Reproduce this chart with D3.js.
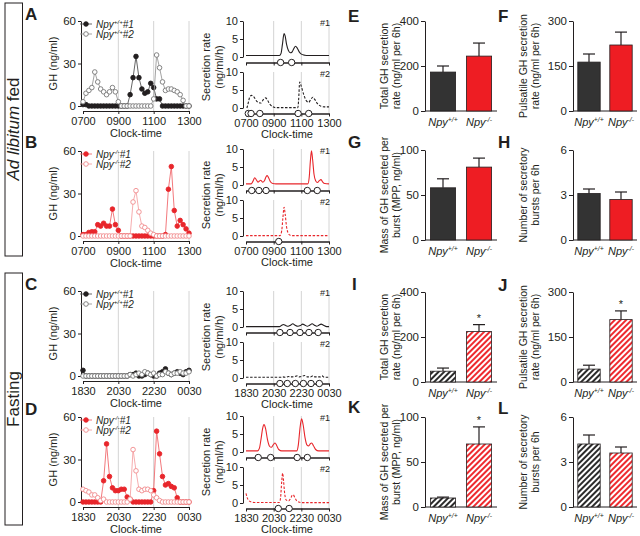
<!DOCTYPE html>
<html><head><meta charset="utf-8">
<script src="https://cdn.jsdelivr.net/npm/d3@7"></script>
<style>body{margin:0;background:#fff}svg{font-family:"Liberation Sans",Arial,sans-serif}</style>
</head><body><svg id="c" width="640" height="536"></svg>
<script>
// ---------------- DATA ----------------
const sampleMinutes = [0,10,20,30,40,50,60,70,80,90,100,110,120,130,140,150,160,170,180,190,200,210,220,230,240,250,260,270,280,290,300,310,320,330,340,350,360];
const fedTicks = ["0700","0900","1100","1300"];
const fastTicks = ["1830","2030","2230","0030"];
const tickMinutes = [0,120,240,360];
const ghTicks = [0,30,60];
const secTicks = [0,5,10];

// GH (ng/ml) every 10 min
const ghA1 = [1,1,0,0,0,0,0,0,0,0,0,0,0,0,0,0,8,20,35,20,12,9,10,16,13,5,5,0,0,0,0,0,0,0,0,0,0];
const ghA2 = [3,9,11,13,24,17,12,10,8,10,13,10,3,0,0,0,0,0,0,0,0,0,0,0,5,36,27,17,11,12,12,11,10,8,4,0,0];
const ghB1 = [1,1,2.5,3,3,8,7,9,7,7,19,8,4,0,0,0,0,0,0,0,0,0,0,0,0,0,0,0,1,33,49,18,7,11,8,5,2];
const ghB2 = [0,0,0,0,0,0,0,0,0,0,0,0,0,0,0,0,0,24,32,17,7,6,4,2,1,0,0,0,0,0,0,0,0,0,0,0,0];
const ghC1 = [4,0,0,0,0,0,0,0,0,0,0,0,0,0,0,0,1,1,2,0,0,1,2,1,0,0,2,3,5,2,1,2,3,2,1,3,4];
const ghC2 = [0,0,0,0,0,0,0,0,0,0,0,0,0,0,0,0,1,0,1,2,1,3,2,1,2,0,1,1,3,2,1,2,2,3,2,2,3];
const ghD1 = [0,0,0,0,0,0,0,15,41,18,10,8,8,9,9,3.5,2,0,0,0,0,0,0,0,8,50,34,18,12,13,11,10,3,0,0,0,0];
const ghD2 = [9,8,7,5,5,3,1,2,0,0,0,0,0,0,0,0,2,37,22,9,8,9,9,8,5,3,1,0,0,0,0,0,0,0,0,0,0];

// Deconvolved secretion rate (ng/ml/h): [minute, value]
const secA1 = [[0,0.4],[145,0.4],[152,1],[158,3.5],[165,6.5],[170,5.8],[176,3.5],[184,1.8],[192,1.2],[200,1.4],[207,2.3],[215,3],[222,2.5],[230,1.5],[240,0.8],[255,0.5],[270,0.4],[360,0.4]];
const secA2 = [[4,0],[10,1.5],[17,3.2],[25,3.5],[35,3],[45,2],[55,1.5],[65,1.4],[75,2.3],[85,2.8],[93,2.2],[103,1.1],[115,0.4],[130,0.1],[225,0.1],[228,2],[233,7.2],[240,6],[250,3.8],[262,2],[272,1.6],[281,2.4],[290,3],[298,2.4],[310,1.2],[325,0.5],[340,0.3],[360,0.3]];
const secB1 = [[0,0.3],[22,0.3],[30,1],[38,2],[45,1.4],[52,0.8],[58,1.1],[64,1.3],[72,0.8],[80,1.2],[87,2.3],[92,2.6],[98,2],[106,0.9],[116,0.4],[130,0.3],[268,0.3],[274,2],[279,6.5],[284,9.5],[289,7],[295,3],[302,1.2],[310,0.7],[318,1.2],[325,1.5],[332,0.9],[342,0.4],[360,0.3]];
const secB2 = [[0,0.1],[148,0.1],[155,1.5],[160,5],[165,8],[170,6],[176,2.5],[183,0.8],[192,0.2],[205,0.1],[360,0.1]];
const secC1 = [[0,0.1],[145,0.1],[155,0.5],[162,0.7],[172,0.4],[183,0.2],[193,0.5],[203,0.9],[213,0.5],[225,0.2],[236,0.4],[246,0.8],[256,0.5],[266,0.2],[276,0.5],[287,0.9],[297,0.5],[307,0.2],[316,0.5],[326,0.8],[336,0.5],[350,0.1],[360,0.1]];
const secC2 = [[0,0.2],[150,0.2],[160,0.3],[170,0.2],[185,0.4],[195,0.3],[210,0.4],[222,0.6],[232,0.3],[255,0.7],[265,0.3],[280,0.3],[290,0.6],[300,0.3],[322,0.3],[330,0.6],[340,0.2],[360,0.2]];
const secD1 = [[0,0.3],[50,0.3],[58,1],[65,3.5],[72,6.5],[78,7.6],[85,6.5],[93,3.5],[102,1.6],[110,1.3],[118,2],[126,2.5],[133,1.8],[142,0.7],[155,0.3],[220,0.3],[227,2],[234,6.5],[241,9.2],[248,7.5],[256,4],[264,2],[272,1.7],[279,2.3],[285,2.5],[292,1.8],[302,0.7],[315,0.3],[360,0.3]];
const secD2 = [[0,2.7],[5,1.5],[12,0.7],[22,0.3],[35,0.15],[145,0.15],[150,1.5],[155,6],[159,8.3],[163,6],[168,2.5],[175,0.8],[185,0.6],[193,1.2],[200,2.1],[205,2.3],[211,1.6],[220,0.6],[232,0.2],[245,0.1],[360,0.1]];

// Pulse onsets (minutes)
const onsetA1 = [150,198];
const onsetA2 = [10,22,60,226,272];
const onsetB1 = [25,56,87,266,309];
const onsetB2 = [142];
const onsetC1 = [147,191,234,273,313];
const onsetC2 = [147,179,214,249,282,318];
const onsetD1 = [53,107,222,266];
const onsetD2 = [140,187];

// Bar data
const genotypes = ["+/+","-/-"];
const totalFedMean = [173,244], totalFedSem = [27,58];
const pulsFedMean = [163,220], pulsFedSem = [27,43];
const mppFedMean = [58,81], mppFedSem = [10,10];
const burstFedMean = [3.1,2.7], burstFedSem = [0.3,0.5];
const totalFastMean = [48,224], totalFastSem = [14,31];
const pulsFastMean = [43,208], pulsFastSem = [13,29];
const mppFastMean = [10,70], mppFastSem = [1,19];
const burstFastMean = [4.2,3.6], burstFastSem = [0.6,0.4];
const fastSignificant = [false,true];

// ---------------- DRAW ----------------
const svg = d3.select("#c");
const INK = "#231f20", RED = "#e8262b", PINK = "#f08a8c", GRID = "#d4d4d4";
const defs = svg.append("defs");
function hatch(id, bg, fg){
  const p = defs.append("pattern").attr("id",id).attr("patternUnits","userSpaceOnUse")
    .attr("width",4).attr("height",4).attr("patternTransform","rotate(45)");
  p.append("rect").attr("width",4).attr("height",4).attr("fill",bg);
  p.append("rect").attr("width",2).attr("height",4).attr("fill",fg);
}
hatch("hBlack","#ffffff","#2b2b2b");
hatch("hRed","#ffffff","#ee2a2f");

function npyText(g, x, y, sup, suffix, size, anchor){
  const t = g.append("text").attr("x",x).attr("y",y).attr("font-size",size)
    .attr("font-style","italic").attr("text-anchor",anchor||"middle").attr("fill",INK);
  t.append("tspan").text("Npy");
  t.append("tspan").attr("dy",-size*0.38).attr("font-size",size*0.62).text(sup);
  if (suffix) t.append("tspan").attr("dy",size*0.38).text(suffix);
  return t;
}
function styleAxis(a, fs){
  a.selectAll("path,line").attr("stroke",INK).attr("stroke-width",1);
  a.selectAll("text").attr("font-size",fs).attr("fill",INK).attr("font-family","Liberation Sans, Arial, sans-serif");
}
function rotLabel(x, y, lines, fs, gap){
  const g = svg.append("g").attr("transform",`translate(${x},${y}) rotate(-90)`);
  lines.forEach((l,i)=>g.append("text").attr("y",i*gap).attr("text-anchor","middle")
    .attr("font-size",fs).attr("fill",INK).text(l));
}

// Left condition boxes
svg.append("rect").attr("x",5).attr("y",3).attr("width",17.5).attr("height",253).attr("fill","none").attr("stroke",INK).attr("stroke-width",1);
svg.append("rect").attr("x",5).attr("y",273).attr("width",17.5).attr("height",252).attr("fill","none").attr("stroke",INK).attr("stroke-width",1);
{
  const t = svg.append("text").attr("transform","translate(19,129) rotate(-90)").attr("text-anchor","middle").attr("font-size",17).attr("fill",INK);
  t.append("tspan").attr("font-style","italic").text("Ad libitum");
  t.append("tspan").text(" fed");
  svg.append("text").attr("transform","translate(19,399) rotate(-90)").attr("text-anchor","middle").attr("font-size",17).attr("fill",INK).text("Fasting");
}

const rows = [
  {letter:"A", ly:20, y0:106, secTop:21, d1:ghA1, d2:ghA2, s1:secA1, s2:secA2, o1:onsetA1, o2:onsetA2, ticks:fedTicks, red:false, sup:"+/+"},
  {letter:"B", ly:148, y0:236, secTop:149, d1:ghB1, d2:ghB2, s1:secB1, s2:secB2, o1:onsetB1, o2:onsetB2, ticks:fedTicks, red:true, sup:"-/-"},
  {letter:"C", ly:290, y0:376, secTop:291, d1:ghC1, d2:ghC2, s1:secC1, s2:secC2, o1:onsetC1, o2:onsetC2, ticks:fastTicks, red:false, sup:"+/+"},
  {letter:"D", ly:415, y0:502, secTop:416, d1:ghD1, d2:ghD2, s1:secD1, s2:secD2, o1:onsetD1, o2:onsetD2, ticks:fastTicks, red:true, sup:"-/-"}
];

rows.forEach(r=>{
  svg.append("text").attr("x",25).attr("y",r.ly).attr("font-size",17).attr("font-weight","bold").attr("fill",INK).text(r.letter);
  const c1 = r.red ? RED : INK, c2 = r.red ? PINK : "#777";
  const l1 = r.red ? "#f06a6e" : "#555", l2 = r.red ? "#f5a3a5" : "#999";
  // ---- GH panel ----
  const g = svg.append("g");
  const x = d3.scaleLinear().domain([0,360]).range([83,189]);
  const y = d3.scaleLinear().domain([0,60]).range([r.y0, r.y0-85]);
  g.selectAll("line.grid").data(tickMinutes.slice(1)).join("line")
    .attr("x1",d=>x(d)).attr("x2",d=>x(d)).attr("y1",y(60)).attr("y2",r.y0+5).attr("stroke",GRID);
  const ya = g.append("g").attr("transform","translate(81,0)")
    .call(d3.axisLeft(y).tickValues(ghTicks).tickSize(3).tickSizeOuter(0).tickPadding(2));
  styleAxis(ya, 11.5);
  const xa = g.append("g").attr("transform",`translate(0,${r.y0+5})`)
    .call(d3.axisBottom(x).tickValues(tickMinutes).tickFormat((d,i)=>r.ticks[i]).tickSize(3).tickSizeOuter(0).tickPadding(3));
  styleAxis(xa, 11);
  g.append("text").attr("x",136).attr("y",r.y0+31).attr("text-anchor","middle").attr("font-size",11).attr("fill",INK).text("Clock-time");
  rotLabel(57, y(30), ["GH (ng/ml)"], 11, 0);
  const line = d3.line().x((d,i)=>x(sampleMinutes[i])).y(d=>y(d));
  [[r.d1,l1,c1,true],[r.d2,l2,c2,false]].forEach(([data,lc,mc,filled])=>{
    g.append("path").attr("d",line(data)).attr("fill","none").attr("stroke",lc).attr("stroke-width",0.9);
    g.selectAll(null).data(data).join("circle")
      .attr("cx",(d,i)=>x(sampleMinutes[i])).attr("cy",d=>y(d)).attr("r",2.3)
      .attr("fill",filled?mc:"#fff").attr("stroke",mc).attr("stroke-width",0.9);
  });
  // legend
  [[c1,l1,true,"#1",r.y0-82],[c2,l2,false,"#2",r.y0-72]].forEach(([mc,lc,filled,sfx,ly])=>{
    g.append("line").attr("x1",80).attr("x2",92).attr("y1",ly).attr("y2",ly).attr("stroke",lc).attr("stroke-width",0.9);
    g.append("circle").attr("cx",86).attr("cy",ly).attr("r",2.3).attr("fill",filled?mc:"#fff").attr("stroke",mc).attr("stroke-width",0.9);
    npyText(g, 96, ly+3.5, r.sup, sfx, 10, "start");
  });
  // ---- Secretion panel ----
  const sx = d3.scaleLinear().domain([0,360]).range([246,329]);
  rotLabel(210, r.secTop+46, ["Secretion rate","(ng/ml/h)"], 11, 13);
  [[r.s1,r.o1,false,"#1"],[r.s2,r.o2,true,"#2"]].forEach(([sd,onsets,dashed,tag],k)=>{
    const top = r.secTop + k*51;
    const sy = d3.scaleLinear().domain([0,10]).range([top+36, top]);
    const axY = top + 41.5;
    g.selectAll(null).data(tickMinutes.slice(1)).join("line")
      .attr("x1",d=>sx(d)).attr("x2",d=>sx(d)).attr("y1",top).attr("y2",axY).attr("stroke",GRID);
    const sa = g.append("g").attr("transform","translate(243,0)")
      .call(d3.axisLeft(sy).tickValues(secTicks).tickSize(3).tickSizeOuter(0).tickPadding(2));
    styleAxis(sa, 11);
    const xb = g.append("g").attr("transform",`translate(0,${axY})`)
      .call(d3.axisBottom(sx).tickValues(tickMinutes).tickFormat(k===1?((d,i)=>r.ticks[i]):"").tickSize(3).tickSizeOuter(0).tickPadding(3));
    styleAxis(xb, 11);
    xb.select("path").attr("stroke-width",1.6);
    g.append("path").attr("d",d3.line().curve(d3.curveMonotoneX).x(d=>sx(d[0])).y(d=>sy(d[1]))(sd))
      .attr("fill","none").attr("stroke",r.red?RED:INK).attr("stroke-width",1.1)
      .attr("stroke-dasharray",dashed?"2.5,1.6":null);
    g.selectAll(null).data(onsets).join("circle").attr("cx",d=>sx(d)).attr("cy",axY).attr("r",3.2)
      .attr("fill","#fff").attr("stroke",INK).attr("stroke-width",1);
    g.append("text").attr("x",330).attr("y",top+5).attr("text-anchor","end").attr("font-size",9).attr("fill",INK).text(tag);
  });
  g.append("text").attr("x",287).attr("y",r.secTop+92+25).attr("text-anchor","middle").attr("font-size",11).attr("fill",INK).text("Clock-time");
});

// ---------------- Bar charts ----------------
const bars = [
  {letter:"E", lx:348, ly:22, ax:425, x1:497, y0:111, max:400, ticks:[0,200,400], mean:totalFedMean, sem:totalFedSem, title:["Total GH secretion","rate (ng/ml per 6h)"], tx:388, hatch:false},
  {letter:"F", lx:498, ly:22, ax:573, x1:637, y0:111, max:300, ticks:[0,150,300], mean:pulsFedMean, sem:pulsFedSem, title:["Pulsatile GH secretion","rate (ng/ml per 6h)"], tx:527, hatch:false},
  {letter:"G", lx:348, ly:148, ax:425, x1:497, y0:240, max:100, ticks:[0,50,100], mean:mppFedMean, sem:mppFedSem, title:["Mass of GH secreted per","burst (MPP, ng/ml)"], tx:388, hatch:false},
  {letter:"H", lx:498, ly:148, ax:573, x1:637, y0:240, max:6, ticks:[0,3,6], mean:burstFedMean, sem:burstFedSem, title:["Number of secretory","bursts per 6h"], tx:527, hatch:false},
  {letter:"I", lx:352, ly:290, ax:425, x1:497, y0:382, max:400, ticks:[0,200,400], mean:totalFastMean, sem:totalFastSem, title:["Total GH secretion","rate (ng/ml per 6h)"], tx:388, hatch:true, star:true},
  {letter:"J", lx:498, ly:291, ax:573, x1:637, y0:382, max:300, ticks:[0,150,300], mean:pulsFastMean, sem:pulsFastSem, title:["Pulsatile GH secretion","rate (ng/ml per 6h)"], tx:527, hatch:true, star:true},
  {letter:"K", lx:348, ly:413, ax:425, x1:497, y0:507, max:100, ticks:[0,50,100], mean:mppFastMean, sem:mppFastSem, title:["Mass of GH secreted per","burst (MPP, ng/ml)"], tx:388, hatch:true, star:true},
  {letter:"L", lx:498, ly:414, ax:573, x1:637, y0:507, max:6, ticks:[0,3,6], mean:burstFastMean, sem:burstFastSem, title:["Number of secretory","bursts per 6h"], tx:527, hatch:true}
];

bars.forEach(b=>{
  svg.append("text").attr("x",b.lx).attr("y",b.ly).attr("font-size",17).attr("font-weight","bold").attr("fill",INK).text(b.letter);
  const g = svg.append("g");
  const y = d3.scaleLinear().domain([0,b.max]).range([b.y0, b.y0-90]);
  const x = d3.scaleBand().domain(genotypes).range([b.ax, b.x1]).paddingInner(0.3).paddingOuter(0.15);
  const ya = g.append("g").attr("transform",`translate(${b.ax},0)`)
    .call(d3.axisLeft(y).tickValues(b.ticks).tickFormat(d3.format("d")).tickSize(4).tickSizeOuter(0).tickPadding(2));
  styleAxis(ya, 11.5);
  g.append("line").attr("x1",b.ax).attr("x2",b.x1).attr("y1",b.y0).attr("y2",b.y0).attr("stroke",INK);
  rotLabel(b.tx, b.y0-45, b.title, 10.5, 12);
  genotypes.forEach((gt,i)=>{
    const isRed = i===1;
    const fill = b.hatch ? (isRed?"url(#hRed)":"url(#hBlack)") : (isRed?"#ee1d23":"#333333");
    const cx = x(gt)+x.bandwidth()/2;
    const top = y(b.mean[i] + b.sem[i]);
    g.append("line").attr("x1",cx).attr("x2",cx).attr("y1",y(b.mean[i])).attr("y2",top).attr("stroke",INK).attr("stroke-width",1.2);
    g.append("line").attr("x1",cx-6).attr("x2",cx+6).attr("y1",top).attr("y2",top).attr("stroke",INK).attr("stroke-width",1.2);
    g.append("rect").attr("x",x(gt)).attr("y",y(b.mean[i])).attr("width",x.bandwidth()).attr("height",b.y0-y(b.mean[i]))
      .attr("fill",fill).attr("stroke",INK).attr("stroke-width",0.8);
    if (b.star && fastSignificant[i]) g.append("text").attr("x",cx).attr("y",top-3).attr("text-anchor","middle").attr("font-size",11).attr("fill",INK).text("*");
    npyText(g, cx, b.y0+15, gt, "", 11, "middle");
  });
});
</script></body></html>
